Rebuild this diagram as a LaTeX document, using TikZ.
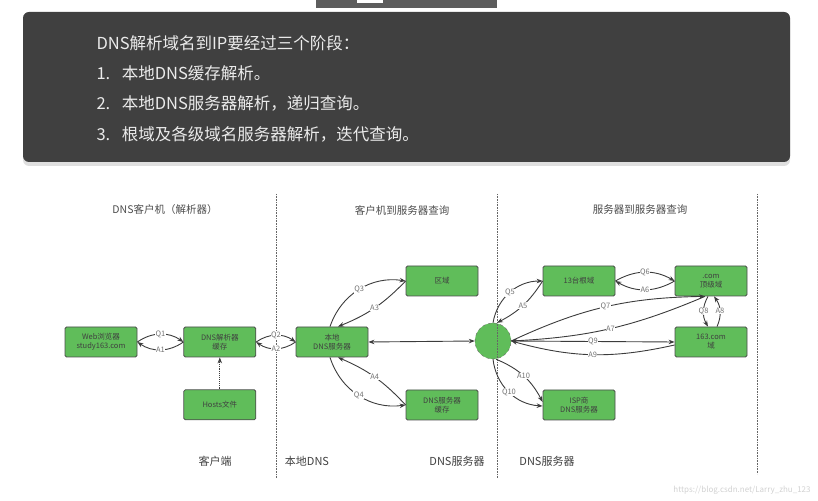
\documentclass[tikz,border=0pt]{standalone}
\usepackage{fontspec}
\setmainfont{Noto Sans CJK SC}
\usepackage{tikz}
\usetikzlibrary{arrows.meta, positioning, shadows}
\definecolor{srvgreen}{RGB}{96,189,90}
\definecolor{panel}{RGB}{64,64,64}
\definecolor{ink}{RGB}{60,60,60}
\tikzset{
  server/.style={rectangle, rounded corners=1.5pt, minimum width=72pt, minimum height=30pt, text centered, align=center, draw=black!70, fill=srvgreen, line width=0.8pt, font=\fontsize{7.5}{9}\selectfont, text=black!75},
  hubnode/.style={circle, minimum size=36pt, inner sep=0pt, draw=black!60, dashed, fill=srvgreen},
  arrow/.style={line width=0.9pt, ->, >={Stealth[length=6pt, width=4.5pt]}, draw=ink},
  tag/.style={fill=white, inner sep=0.5pt, font=\fontsize{7.5}{8}\selectfont, text=black!55},
  divider/.style={densely dotted, draw=black!60, line width=0.6pt},
  heading/.style={font=\fontsize{10.5}{12}\selectfont, text=black!70},
  caption/.style={font=\fontsize{11}{12}\selectfont, text=black!75},
  stage/.style={anchor=west, text=white!92!black, font=\fontsize{16.5}{20}\selectfont}
}

\begin{document}
\begin{tikzpicture}[x=1pt, y=1pt]
\useasboundingbox (0,0) rectangle (818,500);

% Panel with the three stages
\fill[panel!85!white] (316,492) rectangle (497,500);
\fill[white] (357,497) rectangle (383,500);
\fill[panel, rounded corners=6pt, drop shadow={shadow xshift=0pt, shadow yshift=-4pt, opacity=0.25}] (23,338) rectangle (790,488);
\node (s0) [stage] at (93,457) {DNS解析域名到IP要经过三个阶段：};
\node (s1) [stage] at (93,427) {1.\hspace{0.7em}本地DNS缓存解析。};
\node (s2) [stage] at (93,397) {2.\hspace{0.7em}本地DNS服务器解析，递归查询。};
\node (s3) [stage] at (93,366) {3.\hspace{0.7em}根域及各级域名服务器解析，迭代查询。};

% Nodes
\node (browser) [server] at (101,158) {Web浏览器\\study163.com};
\node (resolver) [server, right=46pt of browser] {DNS解析器\\缓存};
\node (hosts) [server, below=32pt of resolver] {Hosts文件};
\node (local) [server] at (332,158) {本地\\DNS服务器};
\node (zone) [server] at (442,219) {区域};
\node (cache) [server] at (442,95) {DNS服务器\\缓存};
\node (hub) [hubnode] at (493,159) {};
\node (root) [server] at (579,219) {13台根域};
\node (com) [server] at (711,219) {.com\\顶级域};
\node (site) [server] at (711,158) {163.com\\域};
\node (isp) [server] at (579,95) {ISP商\\DNS服务器};

% Columns
\draw[divider] (276,306) -- (276,22);
\draw[divider] (497,306) -- (497,22);
\draw[divider] (757,306) -- (757,26);
\node (h1) [heading] at (165,290) {DNS客户机（解析器）};
\node (h2) [heading] at (402,290) {客户机到服务器查询};
\node (h3) [heading] at (640,290) {服务器到服务器查询};
\node (c1) [caption] at (215,39) {客户端};
\node (c2) [caption] at (307,39) {本地DNS};
\node (c3) [caption] at (457,39) {DNS服务器};
\node (c4) [caption] at (547,39) {DNS服务器};
\node (mark) [font=\fontsize{8}{9}\selectfont, text=black!18] at (742,10) {https://blog.csdn.net/Larry\_zhu\_123};

% Arrows
\draw [arrow] (browser.east) to[bend left=35] node[tag] {Q1} (resolver.west);
\draw [arrow] (resolver.west) to[bend left=35] node[tag] {A1} (browser.east);
\draw [arrow] (resolver.east) to[bend left=35] node[tag] {Q2} (local.west);
\draw [arrow] (local.west) to[bend left=35] node[tag] {A2} (resolver.east);
\draw [arrow, densely dotted] (hosts) -- (resolver);

\draw [arrow] ([xshift=-2pt]local.north) to[bend left=40] node[tag] {Q3} (zone.west);
\draw [arrow] (zone.west) to[bend left=12] node[tag] {A3} ([xshift=6pt]local.north);
\draw [arrow] ([xshift=-2pt]local.south) to[bend right=40] node[tag] {Q4} (cache.west);
\draw [arrow] (cache.west) to[bend right=12] node[tag] {A4} ([xshift=6pt]local.south);
\draw [arrow, <->] (local.east) -- (hub.west);

\draw [arrow] (hub.north) to[bend left=40] node[tag] {Q5} (root.west);
\draw [arrow] (root.west) to[bend left=15] node[tag] {A5} ([xshift=4pt]hub.north);
\draw [arrow] (root.east) to[bend left=30] node[tag] {Q6} (com.west);
\draw [arrow] (com.west) to[bend left=30] node[tag] {A6} (root.east);
\draw [arrow] (hub.east) to[bend left=12] node[tag] {Q7} ([xshift=-6pt]com.south);
\draw [arrow] ([xshift=-6pt]com.south) to[bend left=10] node[tag] {A7} (hub.east);
\draw [arrow] ([xshift=-3pt]com.south) to[bend right=30] node[tag] {Q8} ([xshift=-3pt]site.north);
\draw [arrow] ([xshift=6pt]site.north) to[bend right=30] node[tag] {A8} ([xshift=3pt]com.south);
\draw [arrow] (hub.east) -- node[tag] {Q9} (site.west);
\draw [arrow] ([yshift=-3pt]site.west) to[bend left=14] node[tag] {A9} (hub.east);
\draw [arrow] ([xshift=3pt]hub.south) to[bend left=20] node[tag] {A10} ([yshift=3pt]isp.west);
\draw [arrow] (hub.south) to[bend right=40] node[tag] {Q10} ([yshift=-1pt]isp.west);
\end{tikzpicture}
\end{document}
